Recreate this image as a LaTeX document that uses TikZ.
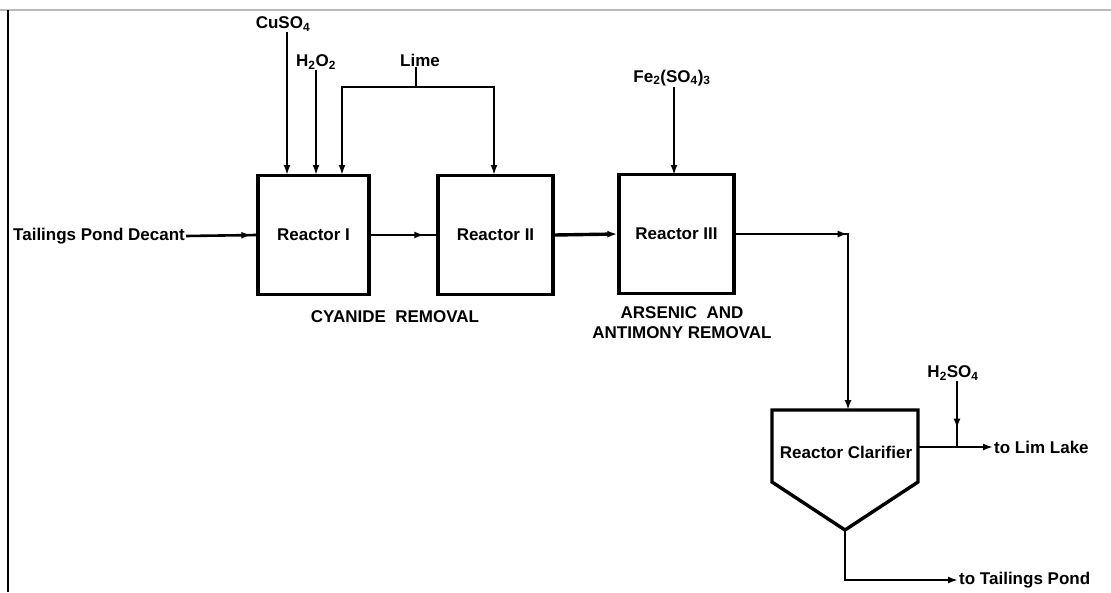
\documentclass[tikz,border=0pt]{standalone}
\usepackage{fontspec}
\setmainfont{Liberation Sans}
\usetikzlibrary{arrows.meta,decorations.markings}
\begin{document}
\begin{tikzpicture}[x=1pt,y=-1pt,
  font=\fontsize{17}{20}\selectfont\bfseries,
  reactorbox/.style={draw, line width=3.4pt, minimum width=#1, minimum height=119pt, inner sep=0pt},
  flow/.style={line width=2.6pt},
  tip/.style={-{Latex[length=10pt,width=7pt]}},
  lbl/.style={inner sep=1pt},
  headat/.style={postaction={decorate}, decoration={markings, mark=at position #1 with {\arrow{Latex[length=10pt,width=7pt]}}}}
]
\useasboundingbox (0,0) rectangle (1111,592);
% frame
\draw[gray!55, line width=2pt] (0,10) -- (1111,10);
\draw[black, line width=2pt] (8,10) -- (8,592);

% reactors
\node[reactorbox=111pt] (r1) at (313.5,235) {Reactor I};
\node[reactorbox=115pt] (r2) at (495.5,235) {Reactor II};
\node[reactorbox=115pt] (r3) at (676.5,234) {Reactor III};

% feed
\node[lbl, anchor=west] (tpd) at (12,236) {Tailings Pond Decant};
\draw[flow, headat=-5pt] (tpd.east) -- (r1.west);
\draw[flow, headat=-12pt] (r1.east) -- (r2.west);
\draw[flow, line width=3.4pt, tip] (r2.east) -- (r3.west);

% to clarifier
\coordinate (bend) at (848,234);
\coordinate (clartop) at (848,410);
\draw[flow, tip, headat=112pt] (r3.east) -- (bend) -- (clartop);

% clarifier
\draw[line width=3.4pt, line join=miter] (772,410) -- (918,410) -- (918,482) -- (845,530) -- (772,482) -- cycle;
\node (clar) at (846,452) {Reactor Clarifier};
\coordinate (apex) at (845,530);
\coordinate (clarR) at (918,447);

% outlets
\node[lbl, anchor=west] (lim) at (993,447) {to Lim Lake};
\draw[flow, tip] (clarR) -- (lim.west);
\node[lbl] (h2so4) at (953,373) {H\textsubscript{2}SO\textsubscript{4}};
\coordinate (junc) at (957,447);
\draw[flow, headat=0.72] (h2so4.south -| junc) -- (junc);
\node[lbl, anchor=west] (ttp) at (958,580) {to Tailings Pond};
\draw[flow, tip] (apex) |- (ttp.west);

% chemical feeds
\node[lbl] (cuso4) at (283,24) {CuSO\textsubscript{4}};
\coordinate (in1) at (287,175);
\draw[flow, tip] (cuso4.south -| in1) -- (in1);
\node[lbl] (h2o2) at (316,62) {H\textsubscript{2}O\textsubscript{2}};
\coordinate (in2) at (316,175);
\draw[flow, tip] (h2o2.south -| in2) -- (in2);
\node[lbl] (lime) at (420,60) {Lime};
\coordinate (lt) at (416,87);
\coordinate (in3) at (342,175);
\coordinate (in4) at (494,175);
\draw[flow] (lime.south -| lt) -- (lt);
\draw[flow, tip] (lt) -| (in3);
\draw[flow, tip] (lt) -| (in4);
\node[lbl] (fe) at (672,78) {Fe\textsubscript{2}(SO\textsubscript{4})\textsubscript{3}};
\coordinate (in5) at (674,175);
\draw[flow, tip] (fe.south -| in5) -- (in5);

% section labels
\node (cyr) at (395,317) {CYANIDE\ \ REMOVAL};
\node[align=center] (asr) at (682,323) {ARSENIC\ \ AND\\ANTIMONY REMOVAL};
\end{tikzpicture}
\end{document}
